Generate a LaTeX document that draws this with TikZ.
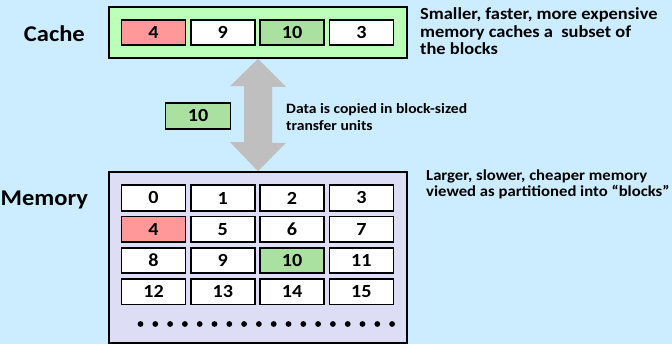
\documentclass[tikz,border=0pt]{standalone}
\usepackage{fontspec}
\setmainfont{Carlito}[FakeStretch=1.09]
\usetikzlibrary{calc}
\definecolor{bgblue}{RGB}{204,236,255}
\definecolor{cachegreen}{RGB}{187,255,187}
\definecolor{hitgreen}{RGB}{170,224,160}
\definecolor{missred}{RGB}{255,153,153}
\definecolor{memlav}{RGB}{221,221,245}
\definecolor{arrowgray}{RGB}{191,191,191}
\begin{document}
\begin{tikzpicture}[x=1pt,y=-1pt,
  font=\bfseries,
  region/.style={draw=black,line width=1.7pt,inner sep=0pt,minimum width=298pt},
  cell/.style={draw=black,line width=1.7pt,fill=white,inner sep=0pt,
    minimum width=64pt,minimum height=25.5pt,font=\fontsize{18.5}{20}\bfseries},
  label/.style={font=\fontsize{22.5}{25}\bfseries,inner sep=0pt},
  note/.style={align=left,inner sep=0pt,anchor=base west},
  dot/.style={circle,fill=black,inner sep=0pt,minimum size=5.8pt}]
\useasboundingbox[fill=bgblue] (0,0) rectangle (672,344);

% cache
\node[region,fill=cachegreen,minimum height=51pt] (cache) at (258,32.5) {};
\foreach \v/\f [count=\i from 0] in {4/missred,9/white,10/hitgreen,3/white}
  \node[cell,fill=\f] (c\i) at ({153.5+69.3*\i},32.5) {\v};
\node[label,anchor=east] (cachelbl) at (85,34) {Cache};

% memory
\node[region,fill=memlav,minimum height=171pt] (mem) at (258,257.5) {};
\foreach \r in {0,...,3}
  \foreach \c in {0,...,3}{
    \pgfmathtruncatemacro{\n}{4*\r+\c}
    \node[cell] (m\n) at ({153.5+69.3*\c},{198+31.3*\r}) {\n};
  }
\node[cell,fill=missred] at (m4) {4};
\node[cell,fill=hitgreen] at (m10) {10};
\foreach \k in {0,...,17}
  \node[dot] (d\k) at ({140.5+14.8*\k},324) {};
\node[label,anchor=west] (memlbl) at (0.5,200) {Memory};

% transfer arrow between the two levels
\fill[arrowgray] (cache.south) -- ++(28,28) -- ++(-14,0) -- ++(0,56)
  -- ++(14,0) -- (mem.north) -- ++(-28,-29) -- ++(14,0) -- ++(0,-56)
  -- ++(-14,0) -- cycle;

% block in transit
\node[cell,fill=hitgreen,minimum width=65pt] (blk) at (198,116) {10};

% notes (anchored at the baseline of their last line)
\node[note,font=\fontsize{16.9}{17.8}\bfseries] (n1) at (420,55)
  {Smaller, faster, more expensive\\memory caches a\ \ subset of\\the blocks};
\node[note,font=\fontsize{14.3}{17}\bfseries] (n2) at (286,131)
  {Data is copied in block-sized\\transfer units};
\node[note,font=\fontsize{15.3}{16.3}\bfseries] (n3) at (426,197)
  {Larger, slower, cheaper memory\\viewed as partitioned into “blocks”};
\end{tikzpicture}
\end{document}
